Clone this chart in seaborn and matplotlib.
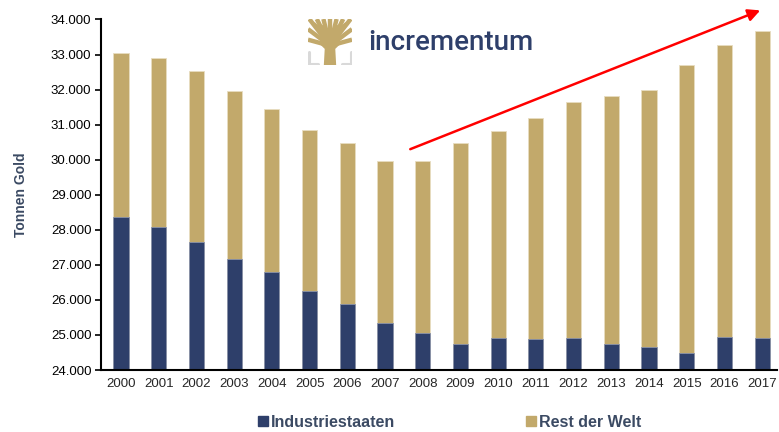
import numpy as np
import pandas as pd
import seaborn as sns
import matplotlib.pyplot as plt
from matplotlib.lines import Line2D
from matplotlib.patches import Polygon

# data (tonnes of gold)
years = [str(y) for y in range(2000, 2018)]
total = [33030, 32895, 32530, 31970, 31460, 30845, 30475, 29975, 29970,
         30490, 30805, 31185, 31650, 31820, 31990, 32705, 33265, 33675]
industrial = [28355, 28080, 27650, 27155, 26785, 26245, 25885, 25335, 25050,
              24755, 24905, 24880, 24905, 24735, 24650, 24480, 24945, 24915]

navy = "#2E3F6A"
gold = "#C2A96B"
label_col = "#3B4A63"

df = pd.DataFrame({"Jahr": years, "Gesamt": total, "Industriestaaten": industrial})

sns.set_style("white")
plt.rcParams['font.family'] = ['Liberation Sans', 'DejaVu Sans']

fig = plt.figure(figsize=(7.79, 4.32), dpi=100)
ax = fig.add_axes([0.1297, 0.1435, 0.868, 0.8114])

# gold bar = total, navy bar drawn over it = industrial countries
sns.barplot(data=df, x="Jahr", y="Gesamt", color=gold, saturation=1,
            width=0.4, ax=ax, edgecolor="#E8DDC0", linewidth=0.6)
sns.barplot(data=df, x="Jahr", y="Industriestaaten", color=navy, saturation=1,
            width=0.4, ax=ax, edgecolor="#8A93AA", linewidth=0.6)

ax.set_ylim(24000, 34000)
ax.set_xlim(-0.53, 17.4)
ax.set_yticks(np.arange(24000, 34001, 1000))
ax.set_yticklabels([f"{v // 1000}.000" for v in range(24000, 34001, 1000)])
ax.tick_params(axis="y", which="both", left=True, length=4, width=1.2,
               labelsize=9.5, colors="black", pad=3)
ax.tick_params(axis="x", length=0, labelsize=9.5, pad=6)
ax.set_xlabel("")
ax.set_ylabel("Tonnen Gold", fontsize=10, fontweight="bold", color=label_col,
              labelpad=16)
for s in ["top", "right"]:
    ax.spines[s].set_visible(False)
for s in ["left", "bottom"]:
    ax.spines[s].set_color("black")
    ax.spines[s].set_linewidth(1.5)

# red trend arrow
ax.annotate("", xy=(16.95, 34260), xytext=(7.67, 30300),
            arrowprops=dict(arrowstyle="-|>", color="red", lw=1.8,
                            mutation_scale=18, shrinkA=0, shrinkB=0),
            annotation_clip=False)

# legend at the bottom
handles = [Line2D([], [], marker="s", linestyle="none", markersize=7.5,
                  color=navy, label="Industriestaaten"),
           Line2D([], [], marker="s", linestyle="none", markersize=7.5,
                  color=gold, label="Rest der Welt")]
leg = fig.legend(handles=handles, loc="center", bbox_to_anchor=(0.577, 0.022),
                 ncol=2, frameon=False, handlelength=0.6, handletextpad=0.2,
                 columnspacing=8.2, prop={"size": 11.5, "weight": "bold"})
for t in leg.get_texts():
    t.set_color(label_col)

# logo: tree mark + wordmark
lax = fig.add_axes([308 / 779, 1 - 65 / 432, 44 / 779, 46 / 432])
lax.set_xlim(0, 1)
lax.set_ylim(0, 1)
lax.axis("off")
# trunk
lax.add_patch(Polygon([[0.36, 0.0], [0.64, 0.0], [0.62, 0.35], [0.78, 0.5],
                       [0.5, 0.45], [0.22, 0.5], [0.38, 0.35]],
                      closed=True, color=gold, lw=0))
# branches fanning out to the top and the sides
tips = [(0.0, 0.55), (0.0, 0.78), (0.03, 1.0), (0.2, 1.0), (0.35, 1.0),
        (0.5, 1.0), (0.65, 1.0), (0.8, 1.0), (0.97, 1.0), (1.0, 0.78),
        (1.0, 0.55)]
for tx, ty in tips:
    lax.plot([0.5, tx], [0.42, ty], color=gold, lw=3.2, solid_capstyle="butt")
for tx, ty in [(0.12, 0.9), (0.3, 0.85), (0.7, 0.85), (0.88, 0.9)]:
    lax.plot([0.5, tx], [0.55, ty], color=gold, lw=3.0, solid_capstyle="butt")
# grey brackets
lax.plot([0.02, 0.02, 0.22], [0.28, 0.03, 0.03], color="#D9D9D9", lw=2.2)
lax.plot([0.78, 0.98, 0.98], [0.03, 0.03, 0.28], color="#D9D9D9", lw=2.2)

fig.text(368 / 779, 1 - 42 / 432, "incrementum", fontsize=20, color=navy,
         family=["Roboto", "DejaVu Sans"], fontweight="medium",
         ha="left", va="center")

fig.savefig("out.png", dpi=100)
